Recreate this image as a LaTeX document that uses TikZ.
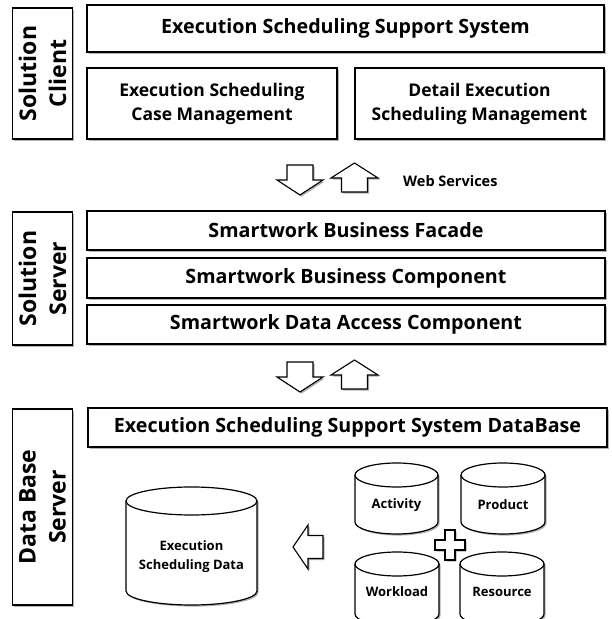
\documentclass[tikz,border=0pt]{standalone}
\usepackage{fontspec}
\setmainfont{Open Sans}
\usetikzlibrary{shadows}

% Cylinder (database drum): left, right, top, bottom, cap radius
\newcommand\datadrum[5]{%
  \path[outline, shade3d] (#1,#3-#5) -- (#1,#4+#5)
    arc[start angle=180, end angle=360, x radius={(#2-#1)/2}, y radius=#5]
    -- (#2,#3-#5)
    arc[start angle=0, end angle=180, x radius={(#2-#1)/2}, y radius=#5] -- cycle;
  \draw[rimline] (#1,#3-#5)
    arc[start angle=180, end angle=360, x radius={(#2-#1)/2}, y radius=#5];
}

\begin{document}
\begin{tikzpicture}[x=1pt, y=1pt,
  outline/.style={draw=black, line width=1.2pt, fill=white},
  rimline/.style={draw=black, line width=1.2pt},
  shade3d/.style={drop shadow={shadow xshift=1.6pt, shadow yshift=-1.6pt, opacity=0.3, fill=black}},
  layer/.style={outline, shade3d, rectangle, inner sep=0pt, align=center,
    font=\bfseries\fontsize{19.7}{23}\selectfont},
  sublayer/.style={layer, font=\bfseries\fontsize{17.5}{24}\selectfont},
  tierbox/.style={outline, shade3d, rectangle, inner sep=0pt, minimum width=60pt},
  tiertext/.style={rotate=90, align=center, inner sep=0pt,
    font=\bfseries\fontsize{23}{30}\selectfont},
  blockarrow/.style={draw=black, line width=1.1pt, fill=white, line join=miter, shade3d},
  drumtext/.style={align=center, inner sep=0pt, font=\bfseries\fontsize{13}{19}\selectfont},
  notetext/.style={inner sep=0pt, font=\bfseries\fontsize{14.5}{16}\selectfont},
]
\useasboundingbox (0,0) rectangle (611,619);
\clip (0,0) rectangle (611,619);
\fill[white] (0,0) rectangle (611,619);

% ---- tier labels ----
\node[tierbox, minimum height=131pt] (clientLab) at (42.5,545.5) {};
\node[tiertext] (clientTxt) at (clientLab) {Solution\\Client};
\node[tierbox, minimum height=133pt] (serverLab) at (42.5,340.5) {};
\node[tiertext] (serverTxt) at (serverLab) {Solution\\Server};
\node[tierbox, minimum height=196pt] (dbLab) at (42.5,112) {};
\node[tiertext] (dbTxt) at (dbLab) {Data Base\\Server};

% ---- solution client ----
\node[layer, minimum width=517pt, minimum height=47pt] (sys) at (345.5,590.5)
  {Execution Scheduling Support System};
\node[sublayer, minimum width=250pt, minimum height=71pt] (caseMgmt) at (212,515.5)
  {Execution Scheduling\\Case Management};
\node[sublayer, minimum width=249pt, minimum height=71pt] (detailMgmt) at (479.5,515.5)
  {Detail Execution\\Scheduling Management};

% ---- web service arrows ----
\draw[blockarrow] (287,454) -- (313,454) -- (313,439) -- (323,439) -- (300,424)
  -- (277,439) -- (287,439) -- cycle;
\draw[blockarrow] (354.5,456) -- (378,441) -- (367.5,441) -- (367.5,427)
  -- (341.5,427) -- (341.5,441) -- (331,441) -- cycle;
\node[notetext, anchor=west] (webSvc) at (403,438) {Web Services};

% ---- solution server ----
\node[layer, minimum width=518pt, minimum height=39pt] (facade) at (346,388.5)
  {Smartwork Business Facade};
\node[layer, minimum width=518pt, minimum height=40pt] (bizComp) at (346,341)
  {Smartwork Business Component};
\node[layer, minimum width=518pt, minimum height=39pt] (dataAccess) at (346,294.5)
  {Smartwork Data Access Component};

% ---- data access arrows ----
\draw[blockarrow] (287,257) -- (313,257) -- (313,242) -- (323,242) -- (300,227)
  -- (277,242) -- (287,242) -- cycle;
\draw[blockarrow] (354.5,259) -- (378,244) -- (367.5,244) -- (367.5,230)
  -- (341.5,230) -- (341.5,244) -- (331,244) -- cycle;

% ---- data base server ----
\node[layer, minimum width=519pt, minimum height=39pt] (dbTitle) at (347.5,191.5)
  {Execution Scheduling Support System DataBase};

\datadrum{126}{257}{132}{14}{14}
\node[drumtext] (esData) at (191.5,62) {Execution\\Scheduling Data};

\datadrum{355}{438}{156}{85}{12}
\node[drumtext] (activity) at (396.5,114) {Activity};
\datadrum{461}{545}{156}{85}{12}
\node[drumtext] (product) at (503,114) {Product};
\datadrum{355}{439}{67}{-7}{12}
\node[drumtext] (workload) at (397,27) {Workload};
\datadrum{460}{544}{67}{-7}{12}
\node[drumtext] (resource) at (502,27) {Resource};

% plus sign joining the four tables
\draw[blockarrow] (445,89) -- (455,89) -- (455,79) -- (465,79) -- (465,69)
  -- (455,69) -- (455,59) -- (445,59) -- (445,69) -- (435,69) -- (435,79)
  -- (445,79) -- cycle;

% arrow into the scheduling data store
\draw[blockarrow] (293,72) -- (308,94) -- (308,83.5) -- (323,83.5) -- (323,60.5)
  -- (308,60.5) -- (308,50) -- cycle;
\end{tikzpicture}
\end{document}
